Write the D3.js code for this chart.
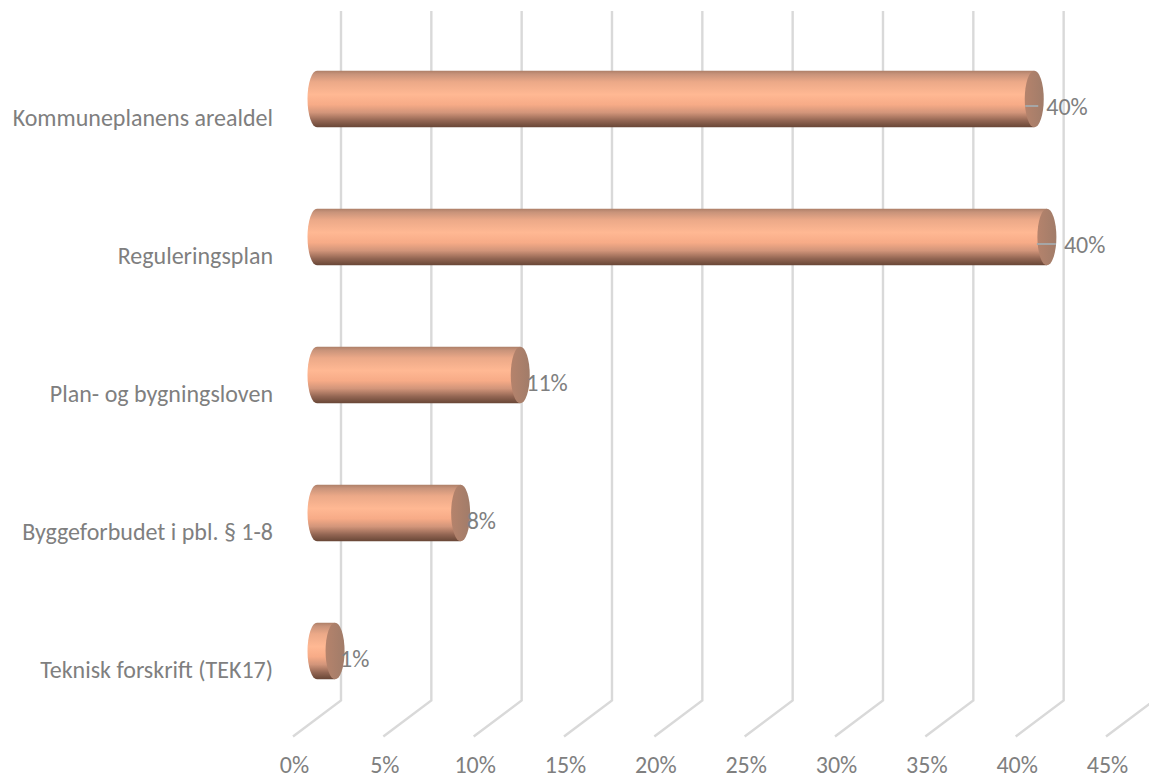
<!DOCTYPE html>
<html><head><meta charset="utf-8">
<script src="https://cdn.jsdelivr.net/npm/d3@7"></script>
<style>
html,body{margin:0;padding:0;background:#fff}
svg{display:block}
text{font-family:Carlito,Lato,"Open Sans",sans-serif;fill:#7f7f7f}
.axis path,.axis line{display:none}
</style></head><body>
<div id="chart"></div>
<script>
const categories = ["Kommuneplanens arealdel","Reguleringsplan","Plan- og bygningsloven","Byggeforbudet i pbl. § 1-8","Teknisk forskrift (TEK17)"];
const values = [39.7,40.4,11.25,7.95,1.0];
const valueLabels = ["40%","40%","11%","8%","1%"];
const ticks = [0,5,10,15,20,25,30,35,40,45];
const labelGap = [12,17,6,6,5];
const leaderEnds = [[-9,4],[-10,9]];

const W=1149,H=778;
const svg=d3.select("#chart").append("svg").attr("width",W).attr("height",H);
const x=d3.scaleLinear().domain([0,45]).range([317,1130]);
const y=d3.scaleBand().domain(categories).range([30,720]).paddingInner(0.59).paddingOuter(0.295);
const depth=24, diag=36, wallBottom=700.5, wallTop=11, rx=9.5;
const fontSize=24;

const defs=svg.append("defs");
const body=defs.append("linearGradient").attr("id","body").attr("x1",0).attr("y1",0).attr("x2",0).attr("y2",1);
[[0,"#ad7f68"],[.06,"#c8937a"],[.2,"#eca988"],[.42,"#ffb893"],[.6,"#f7ab87"],[.74,"#d2957a"],[.88,"#936653"],[1,"#684636"]]
 .forEach(([o,c])=>body.append("stop").attr("offset",o).attr("stop-color",c));
const cap=defs.append("linearGradient").attr("id","cap").attr("x1",0).attr("y1",0).attr("x2",1).attr("y2",0);
[[0,"#b5836c"],[1,"#a17c69"]].forEach(([o,c])=>cap.append("stop").attr("offset",o).attr("stop-color",c));

const grid=svg.append("g").attr("fill","none").attr("stroke","#d9d9d9").attr("stroke-width",2.4);
grid.selectAll("path").data(ticks).join("path")
 .attr("d",d=>`M${x(d)+depth},${wallTop}V${wallBottom}L${x(d)-depth},${wallBottom+diag}`);

const bars=svg.append("g").selectAll("g").data(categories).join("g");
bars.append("path").attr("fill","url(#body)").attr("d",(c,i)=>{
  const t=y(c),b=t+y.bandwidth(),r=y.bandwidth()/2;
  return `M${x(0)},${t}H${x(values[i])}V${b}H${x(0)}A${rx},${r} 0 0 1 ${x(0)},${t}Z`;
});
bars.append("ellipse").attr("fill","url(#cap)")
 .attr("cx",(c,i)=>x(values[i])).attr("cy",c=>y(c)+y.bandwidth()/2)
 .attr("rx",rx).attr("ry",y.bandwidth()/2);

svg.append("g").attr("stroke","#a6a6a6").attr("stroke-width",2)
 .selectAll("line").data(categories.slice(0,2)).join("line")
 .attr("x1",(c,i)=>x(values[i])+leaderEnds[i][0]).attr("x2",(c,i)=>x(values[i])+leaderEnds[i][1])
 .attr("y1",c=>y(c)+y.bandwidth()/2+7).attr("y2",c=>y(c)+y.bandwidth()/2+7);

svg.append("g").selectAll("text").data(categories).join("text")
 .attr("x",(c,i)=>x(values[i])+labelGap[i]).attr("y",c=>y(c)+y.bandwidth()/2+8)
 .attr("dy","0.35em").attr("font-size",fontSize).text((c,i)=>valueLabels[i]);

const ax=svg.append("g").attr("class","axis").attr("transform",`translate(-23,${wallBottom+diag+5})`)
 .call(d3.axisBottom(x).tickValues(ticks).tickFormat(d=>d+"%").tickSize(0).tickPadding(14));
ax.selectAll("text").attr("font-size",fontSize);
const ay=svg.append("g").attr("class","axis").attr("transform","translate(273,19)")
 .call(d3.axisLeft(y).tickSize(0).tickPadding(0));
ay.selectAll("text").attr("font-size",fontSize);
</script></body></html>
